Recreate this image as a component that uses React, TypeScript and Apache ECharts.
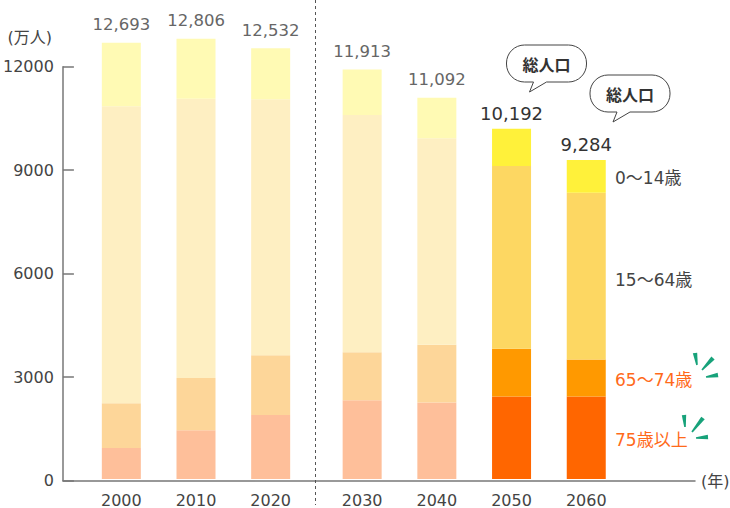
import React, { useEffect, useRef } from 'react';
import * as echarts from 'echarts';

// ---- data ----
const years = ['2000', '2010', '2020', '2030', '2040', '2050', '2060'];
const totals = [12693, 12806, 12532, 11913, 11092, 10192, 9284];
const age0to14 = [1851, 1740, 1480, 1323, 1179, 1082, 954];
const age15to64 = [8638, 8130, 7450, 6900, 6010, 5320, 4850];
const age65to74 = [1303, 1517, 1742, 1400, 1680, 1390, 1080];
const age75plus = [901, 1419, 1860, 2290, 2223, 2400, 2400];
const highlightYears = ['2050', '2060'];
const pastCount = 3; // 2000-2020 left of the dashed divider
const legendLabels = ['0〜14歳', '15〜64歳', '65〜74歳', '75歳以上'];
const bubbleText = '総人口';
const yUnit = '(万人)';
const xUnit = '(年)';

const FONT = '"DejaVu Sans", "Noto Sans CJK JP", sans-serif';
const CJK = '"Noto Sans CJK JP", "DejaVu Sans", sans-serif';

const bubblePath =
  'M18,0 H62 A18,18 0 0 1 80,18 V19 A18,18 0 0 1 62,37 H40 L23,47 L27,37 H18 A18,18 0 0 1 0,19 V18 A18,18 0 0 1 18,0 Z';
echarts.graphic.registerShape('speechBubble', echarts.graphic.extendPath(bubblePath, {}) as any);

function taper(p0: number[], p1: number[], w0: number, w1: number) {
  const dx = p1[0] - p0[0];
  const dy = p1[1] - p0[1];
  const len = Math.sqrt(dx * dx + dy * dy);
  const nx = -dy / len;
  const ny = dx / len;
  return [
    [p0[0] + nx * w0, p0[1] + ny * w0],
    [p1[0] + nx * w1, p1[1] + ny * w1],
    [p1[0] - nx * w1, p1[1] - ny * w1],
    [p0[0] - nx * w0, p0[1] - ny * w0],
  ];
}

export default function App() {
  const ref = useRef<HTMLDivElement>(null);
  useEffect(() => {
    if (!ref.current) return;
    const chart = echarts.init(ref.current, null, { renderer: 'svg' });

    const segs = [
      { name: '75歳以上', data: age75plus, faded: '#FEBF9A', bright: '#FF6600' },
      { name: '65〜74歳', data: age65to74, faded: '#FDD699', bright: '#FF9900' },
      { name: '15〜64歳', data: age15to64, faded: '#FEEFC2', bright: '#FDD762' },
      { name: '0〜14歳', data: age0to14, faded: '#FFFAB4', bright: '#FFF13A' },
    ];

    const groups = [
      years.map((_, i) => i).filter((i) => i < pastCount),
      years.map((_, i) => i).filter((i) => i >= pastCount),
    ];

    const series: any[] = [];
    groups.forEach((idx, g) => {
      segs.forEach((seg, s) => {
        const isTop = s === segs.length - 1;
        series.push({
          type: 'bar',
          name: seg.name,
          xAxisIndex: g + 1,
          yAxisIndex: g + 1,
          stack: 'grp' + g,
          barWidth: 39,
          silent: true,
          data: idx.map((i) => {
            const hl = highlightYears.includes(years[i]);
            const item: any = { value: seg.data[i], itemStyle: { color: hl ? seg.bright : seg.faded } };
            if (isTop) {
              item.label = hl
                ? { show: true, fontSize: 18, color: '#333', distance: 6 }
                : { show: true, fontSize: 16.5, color: '#666', distance: 10 };
            }
            return item;
          }),
          label: isTop
            ? {
                show: true,
                position: 'top',
                fontFamily: FONT,
                formatter: (p: any) => totals[idx[p.dataIndex]].toLocaleString('en-US'),
              }
            : { show: false },
        });
      });
    });

    const catAxis = (idx: number[]) => ({
      type: 'category',
      data: idx.map((i) => years[i]),
      axisLine: { show: false },
      axisTick: { show: false },
      axisLabel: { color: '#444', fontSize: 16, fontFamily: FONT, margin: 13 },
    });
    const hiddenY = {
      type: 'value',
      min: 0,
      max: 13000,
      show: false,
    };

    const legendY = [178, 280, 380, 440];
    const legendColors = ['#444', '#444', '#FF6A1A', '#FF6A1A'];

    const accentStrokes = [
      [[697, 365], [695, 353]],
      [[702, 370], [713, 358]],
      [[706, 377], [718, 375]],
      [[685, 427], [684, 415]],
      [[692, 432], [703, 418]],
      [[696, 438], [708, 437]],
    ];

    const graphic: any[] = [
      {
        type: 'line',
        shape: { x1: 315.5, y1: 0, x2: 315.5, y2: 505 },
        style: { stroke: '#555', lineWidth: 1, lineDash: [3, 3] },
        z: 10,
      },
      {
        type: 'text',
        x: 52,
        y: 37,
        style: { text: yUnit, font: `16px ${FONT}`, fill: '#444', align: 'right', verticalAlign: 'middle' },
      },
      {
        type: 'text',
        x: 701,
        y: 481,
        style: { text: xUnit, font: `16px ${FONT}`, fill: '#444', align: 'left', verticalAlign: 'middle' },
      },
      ...legendLabels.map((t, i) => ({
        type: 'text',
        x: 615,
        y: legendY[i],
        style: { text: t, font: `17px ${FONT}`, fill: legendColors[i], align: 'left', verticalAlign: 'middle' },
      })),
      ...accentStrokes.map((st) => ({
        type: 'polygon',
        shape: { points: taper(st[0], st[1], 0.8, 2.2) },
        style: { fill: '#17A27A' },
      })),
      {
        type: 'speechBubble',
        x: 506.5,
        y: 45,
        style: { fill: '#fff', stroke: '#444', lineWidth: 1 },
        z: 20,
      },
      {
        type: 'text',
        x: 546.5,
        y: 63.5,
        z: 21,
        style: { text: bubbleText, font: `bold 16px ${CJK}`, fill: '#333', align: 'center', verticalAlign: 'middle' },
      },
      {
        type: 'speechBubble',
        x: 590,
        y: 75,
        style: { fill: '#fff', stroke: '#444', lineWidth: 1 },
        z: 20,
      },
      {
        type: 'text',
        x: 630,
        y: 93.5,
        z: 21,
        style: { text: bubbleText, font: `bold 16px ${CJK}`, fill: '#333', align: 'center', verticalAlign: 'middle' },
      },
    ];

    chart.setOption({
      animation: false,
      grid: [
        { left: 61, top: 66.7, width: 634, height: 413.8, containLabel: false },
        { left: 84, top: 32.2, width: 224, height: 448.3, containLabel: false },
        { left: 324.8, top: 32.2, width: 298.8, height: 448.3, containLabel: false },
      ],
      xAxis: [
        {
          type: 'value',
          gridIndex: 0,
          min: 0,
          max: 1,
          axisLabel: { show: false },
          axisTick: { show: false },
          splitLine: { show: false },
          axisLine: { show: true, lineStyle: { color: '#777', width: 1.5 } },
        },
        { ...catAxis(groups[0]), gridIndex: 1 },
        { ...catAxis(groups[1]), gridIndex: 2 },
      ],
      yAxis: [
        {
          type: 'value',
          gridIndex: 0,
          min: 0,
          max: 12000,
          interval: 3000,
          splitLine: { show: false },
          axisLine: { show: true, lineStyle: { color: '#777', width: 1.5 } },
          axisTick: { show: true, inside: true, length: 11, lineStyle: { color: '#777', width: 1.5 } },
          axisLabel: {
            color: '#444',
            fontSize: 16,
            fontFamily: FONT,
            margin: 9,
            formatter: (v: number) => String(v),
          },
        },
        { ...hiddenY, gridIndex: 1 },
        { ...hiddenY, gridIndex: 2 },
      ],
      series,
      graphic,
    });

    return () => chart.dispose();
  }, []);

  return <div ref={ref} style={{ position: 'absolute', left: 0, top: 0, width: 730, height: 508 }} />;
}
